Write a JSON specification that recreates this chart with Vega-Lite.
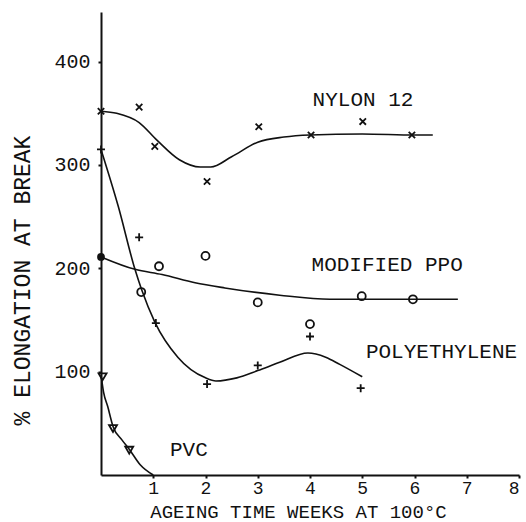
{
  "$schema": "https://vega.github.io/schema/vega-lite/v6.json",
  "width": 418,
  "height": 463,
  "autosize": {"type": "none"},
  "padding": {"left": 101, "top": 12, "right": 7, "bottom": 47},
  "background": "white",
  "config": {
    "view": {"stroke": null},
    "font": "Liberation Mono",
    "axis": {
      "grid": false,
      "domainColor": "#111",
      "domainWidth": 2,
      "tickColor": "#111",
      "tickWidth": 2,
      "tickSize": 3,
      "labelColor": "#111",
      "titleColor": "#111",
      "labelFont": "Liberation Mono",
      "titleFont": "Liberation Mono",
      "titleFontWeight": "normal",
      "labelFontSize": 20,
      "titleFontSize": 21
    }
  },
  "datasets": {
    "d": [
      {"s": "nylon", "k": "curve", "x": 0, "y": 352},
      {"s": "nylon", "k": "curve", "x": 0.3, "y": 350},
      {"s": "nylon", "k": "curve", "x": 0.73, "y": 341},
      {"s": "nylon", "k": "curve", "x": 1.07, "y": 324},
      {"s": "nylon", "k": "curve", "x": 1.5, "y": 305},
      {"s": "nylon", "k": "curve", "x": 1.9, "y": 298},
      {"s": "nylon", "k": "curve", "x": 2.1, "y": 298},
      {"s": "nylon", "k": "curve", "x": 2.5, "y": 308},
      {"s": "nylon", "k": "curve", "x": 3, "y": 322},
      {"s": "nylon", "k": "curve", "x": 3.5, "y": 327},
      {"s": "nylon", "k": "curve", "x": 4, "y": 329},
      {"s": "nylon", "k": "curve", "x": 5, "y": 330},
      {"s": "nylon", "k": "curve", "x": 6, "y": 329},
      {"s": "nylon", "k": "curve", "x": 6.35, "y": 329},
      {"s": "ppo", "k": "curve", "x": 0, "y": 211},
      {"s": "ppo", "k": "curve", "x": 0.65, "y": 199},
      {"s": "ppo", "k": "curve", "x": 1.17, "y": 194},
      {"s": "ppo", "k": "curve", "x": 1.8, "y": 186},
      {"s": "ppo", "k": "curve", "x": 2.37, "y": 181},
      {"s": "ppo", "k": "curve", "x": 3.42, "y": 174},
      {"s": "ppo", "k": "curve", "x": 4.38, "y": 170},
      {"s": "ppo", "k": "curve", "x": 5, "y": 170},
      {"s": "ppo", "k": "curve", "x": 6, "y": 170},
      {"s": "ppo", "k": "curve", "x": 6.83, "y": 170},
      {"s": "pe", "k": "curve", "x": 0, "y": 315},
      {"s": "pe", "k": "curve", "x": 0.33, "y": 260},
      {"s": "pe", "k": "curve", "x": 0.65, "y": 199},
      {"s": "pe", "k": "curve", "x": 0.78, "y": 179},
      {"s": "pe", "k": "curve", "x": 1.03, "y": 148},
      {"s": "pe", "k": "curve", "x": 1.47, "y": 114},
      {"s": "pe", "k": "curve", "x": 2, "y": 94},
      {"s": "pe", "k": "curve", "x": 2.2, "y": 91},
      {"s": "pe", "k": "curve", "x": 2.6, "y": 94},
      {"s": "pe", "k": "curve", "x": 3, "y": 101},
      {"s": "pe", "k": "curve", "x": 3.42, "y": 109},
      {"s": "pe", "k": "curve", "x": 3.96, "y": 118},
      {"s": "pe", "k": "curve", "x": 4.3, "y": 114},
      {"s": "pe", "k": "curve", "x": 4.57, "y": 107},
      {"s": "pe", "k": "curve", "x": 5, "y": 95},
      {"s": "pvc", "k": "curve", "x": 0, "y": 97},
      {"s": "pvc", "k": "curve", "x": 0.05, "y": 80},
      {"s": "pvc", "k": "curve", "x": 0.13, "y": 66},
      {"s": "pvc", "k": "curve", "x": 0.23, "y": 47},
      {"s": "pvc", "k": "curve", "x": 0.4, "y": 34},
      {"s": "pvc", "k": "curve", "x": 0.54, "y": 25},
      {"s": "pvc", "k": "curve", "x": 0.75, "y": 10},
      {"s": "pvc", "k": "curve", "x": 1, "y": 0},
      {"s": "nylon", "k": "pt", "x": 0, "y": 352},
      {"s": "nylon", "k": "pt", "x": 0.73, "y": 356},
      {"s": "nylon", "k": "pt", "x": 1.03, "y": 318},
      {"s": "nylon", "k": "pt", "x": 2.03, "y": 284},
      {"s": "nylon", "k": "pt", "x": 3.02, "y": 337},
      {"s": "nylon", "k": "pt", "x": 4.02, "y": 329},
      {"s": "nylon", "k": "pt", "x": 5.01, "y": 342},
      {"s": "nylon", "k": "pt", "x": 5.95, "y": 329},
      {"s": "pe", "k": "pt", "x": 0, "y": 315},
      {"s": "pe", "k": "pt", "x": 0.73, "y": 230},
      {"s": "pe", "k": "pt", "x": 1.05, "y": 147},
      {"s": "pe", "k": "pt", "x": 2.03, "y": 88},
      {"s": "pe", "k": "pt", "x": 3.0, "y": 106},
      {"s": "pe", "k": "pt", "x": 4.0, "y": 134},
      {"s": "pe", "k": "pt", "x": 4.97, "y": 84},
      {"s": "ppo", "k": "pt", "x": 0.77, "y": 177},
      {"s": "ppo", "k": "pt", "x": 1.11, "y": 202},
      {"s": "ppo", "k": "pt", "x": 2.0, "y": 212},
      {"s": "ppo", "k": "pt", "x": 3.0, "y": 167},
      {"s": "ppo", "k": "pt", "x": 4.0, "y": 146},
      {"s": "ppo", "k": "pt", "x": 4.99, "y": 173},
      {"s": "ppo", "k": "pt", "x": 5.97, "y": 170},
      {"s": "pvc", "k": "pt", "x": 0.03, "y": 95},
      {"s": "pvc", "k": "pt", "x": 0.23, "y": 45},
      {"s": "pvc", "k": "pt", "x": 0.54, "y": 24},
      {"s": "ppo", "k": "dot", "x": 0, "y": 211},
      {"s": "nylon", "k": "label", "x": 4.05, "y": 363, "t": "NYLON 12"},
      {"s": "ppo", "k": "label", "x": 4.03, "y": 203, "t": "MODIFIED PPO"},
      {"s": "pe", "k": "label", "x": 5.07, "y": 119, "t": "POLYETHYLENE"},
      {"s": "pvc", "k": "label", "x": 1.32, "y": 24, "t": "PVC"}
    ]
  },
  "data": {"name": "d"},
  "encoding": {
    "x": {
      "field": "x",
      "type": "quantitative",
      "scale": {"domain": [0, 8], "nice": false},
      "axis": {
        "values": [1, 2, 3, 4, 5, 6, 7, 8],
        "title": "AGEING TIME WEEKS AT 100°C",
        "labelPadding": 1,
        "labelFontSize": 18,
        "titleX": 197,
        "titleY": 36,
        "titleAlign": "center",
        "titleBaseline": "middle",
        "titleFontSize": 19
      }
    },
    "y": {
      "field": "y",
      "type": "quantitative",
      "scale": {"domain": [0, 448], "nice": false},
      "axis": {
        "values": [100, 200, 300, 400],
        "title": "% ELONGATION AT BREAK",
        "labelPadding": 8,
        "titleX": -79,
        "titleY": 268,
        "titleAlign": "center",
        "titleBaseline": "middle",
        "titleFontSize": 23
      }
    }
  },
  "layer": [
    {
      "transform": [{"filter": "datum.k === 'curve'"}],
      "mark": {"type": "line", "interpolate": "monotone", "color": "#111", "strokeWidth": 1.6},
      "encoding": {"detail": {"field": "s"}}
    },
    {
      "transform": [{"filter": "datum.k === 'pt'"}],
      "mark": {"type": "point", "filled": false, "color": "#111", "strokeWidth": 1.8, "size": 64, "opacity": 1},
      "encoding": {
        "shape": {
          "field": "s",
          "type": "nominal",
          "legend": null,
          "scale": {
            "domain": ["nylon", "pe", "ppo", "pvc"],
            "range": ["M-0.8,-0.8L0.8,0.8M-0.8,0.8L0.8,-0.8", "M-1,0L1,0M0,-1L0,1", "circle", "triangle-down"]
          }
        }
      }
    },
    {
      "transform": [{"filter": "datum.k === 'dot'"}],
      "mark": {"type": "point", "filled": true, "shape": "circle", "color": "#111", "size": 60, "opacity": 1}
    },
    {
      "transform": [{"filter": "datum.k === 'label'"}],
      "mark": {"type": "text", "align": "left", "baseline": "middle", "fontSize": 21, "font": "Liberation Mono", "color": "#111"},
      "encoding": {"text": {"field": "t"}}
    }
  ]
}
